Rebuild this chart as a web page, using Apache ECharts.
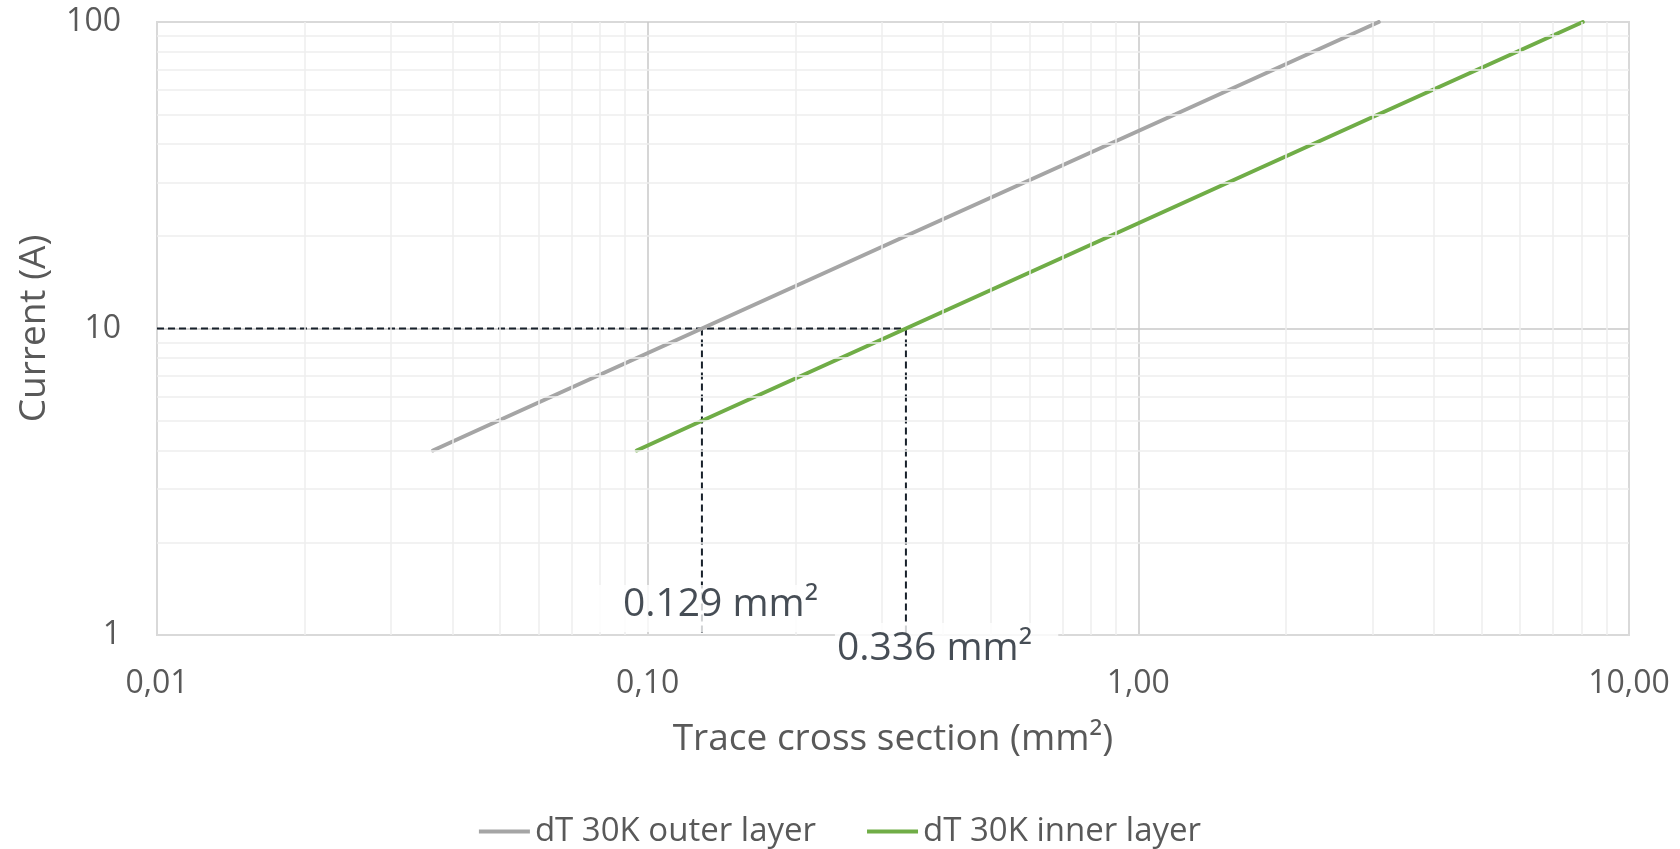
<!DOCTYPE html>
<html>
<head>
<meta charset="utf-8">
<script src="https://cdn.jsdelivr.net/npm/echarts@6/dist/echarts.min.js"></script>
<style>
  html, body { margin: 0; padding: 0; background: #fff; }
  #chart { width: 1680px; height: 849px; }
</style>
</head>
<body>
<div id="chart"></div>
<script>
// current (A) and the matching cross sections (mm²)
const currentA = [4, 5, 10, 20, 50, 100]
const outerArea = [0.0365, 0.0496, 0.129, 0.335, 1.19, 3.09]
const innerArea = [0.095, 0.129, 0.336, 0.874, 3.09, 8.05]

// 10 A read-out
const guideCurrent = 10
const guideAreas = [0.129, 0.336]
const guideLabels = ["0.129 mm²", "0.336 mm²"]

// axis ticks
const xTickValues = [0.01, 0.1, 1, 10]
const xTickLabels = ["0,01", "0,10", "1,00", "10,00"]
const yTickValues = [1, 10, 100]
const yTickLabels = ["1", "10", "100"]
const xMinor = [0.02, 0.03, 0.04, 0.05, 0.06, 0.07, 0.08, 0.09, 0.2, 0.3, 0.4, 0.5, 0.6, 0.7, 0.8, 0.9, 2, 3, 4, 5, 6, 7, 8, 9]
const yMinor = [2, 3, 4, 5, 6, 7, 8, 9, 20, 30, 40, 50, 60, 70, 80, 90]

const font = "Open Sans"
const grey = "#595959"
const ink = "#18212b"

const pickLabel = (values, labels, v) => {
  const i = values.findIndex((t) => Math.abs(t - v) < t * 1e-6)
  return i < 0 ? "" : labels[i]
}

const myChart = echarts.init(document.getElementById("chart"))

const option = {
  animation: false,
  textStyle: { fontFamily: font },
  grid: {
    left: 157,
    right: 51,
    top: 22,
    bottom: 214,
    show: true,
    borderColor: "#d9d9d9",
    borderWidth: 2
  },
  legend: {
    top: 810,
    left: "center",
    icon: "rect",
    itemWidth: 51,
    itemHeight: 4,
    itemGap: 51,
    data: ["dT 30K outer layer", "dT 30K inner layer"],
    textStyle: { fontSize: 33, color: grey, fontFamily: font }
  },
  xAxis: {
    type: "log",
    logBase: 10,
    min: 0.01,
    max: 10,
    z: 3,
    name: "Trace cross section (mm²)",
    nameLocation: "middle",
    nameGap: 86,
    nameTextStyle: { fontSize: 37, color: grey, fontFamily: font },
    axisLine: { lineStyle: { color: "#d9d9d9", width: 2 } },
    axisTick: { show: false },
    axisLabel: {
      margin: 33,
      fontSize: 32,
      color: grey,
      fontFamily: font,
      formatter: (v) => pickLabel(xTickValues, xTickLabels, v)
    },
    splitLine: {
      show: true,
      showMinLine: false,
      showMaxLine: false,
      lineStyle: { color: "#c8c8c8", width: 1.5 }
    }
  },
  yAxis: {
    type: "log",
    logBase: 10,
    min: 1,
    max: 100,
    z: 3,
    name: "Current (A)",
    nameLocation: "middle",
    nameGap: 104,
    nameTextStyle: { fontSize: 37, color: grey, fontFamily: font },
    axisLine: { show: true, lineStyle: { color: "#d9d9d9", width: 2 } },
    axisTick: { show: false },
    axisLabel: {
      margin: 36,
      fontSize: 32,
      color: grey,
      fontFamily: font,
      formatter: (v) => pickLabel(yTickValues, yTickLabels, v)
    },
    splitLine: {
      show: true,
      showMinLine: false,
      showMaxLine: false,
      lineStyle: { color: "#c8c8c8", width: 1.5 }
    }
  },
  series: [
    {
      // minor grid
      name: "minor",
      type: "line",
      data: [],
      z: 1,
      silent: true,
      markLine: {
        silent: true,
        symbol: ["none", "none"],
        label: { show: false },
        lineStyle: { color: "#eeeeee", width: 1.5, type: "solid" },
        data: xMinor.map((v) => ({ xAxis: v })).concat(yMinor.map((v) => ({ yAxis: v })))
      }
    },
    {
      name: "dT 30K outer layer",
      type: "line",
      z: 4,
      showSymbol: false,
      symbol: "none",
      color: "#a5a5a5",
      lineStyle: { width: 4, color: "#a5a5a5", cap: "round" },
      data: outerArea.map((a, i) => [a, currentA[i]])
    },
    {
      name: "dT 30K inner layer",
      type: "line",
      z: 4,
      showSymbol: false,
      symbol: "none",
      color: "#70ad47",
      lineStyle: { width: 4, color: "#70ad47", cap: "round" },
      data: innerArea.map((a, i) => [a, currentA[i]])
    },
    {
      name: "guide",
      type: "line",
      z: 3,
      silent: true,
      symbol: "none",
      lineStyle: { color: ink, width: 2, type: [7, 4] },
      data: [[xTickValues[0], guideCurrent], [guideAreas[1], guideCurrent]]
    },
    ...guideAreas.map((a) => ({
      name: "guide",
      type: "line",
      z: 3,
      silent: true,
      symbol: "none",
      lineStyle: { color: ink, width: 2, type: [7, 4] },
      data: [[a, guideCurrent], [a, yTickValues[0]]]
    })),
    {
      name: "labels",
      type: "scatter",
      z: 6,
      silent: true,
      symbolSize: 0,
      data: guideAreas.map((a, i) => ({
        value: [a, yTickValues[0]],
        label: i === 0
          ? { position: [-104, -50], padding: [0, 25, 8, 25] }
          : { position: [-71, -12], padding: [6, 26, 12, 2] }
      })),
      label: {
        show: true,
        align: "left",
        verticalAlign: "top",
        fontSize: 39,
        fontFamily: font,
        color: ink,
        backgroundColor: "#ffffff",
        formatter: (p) => guideLabels[p.dataIndex]
      }
    }
  ]
}

myChart.setOption(option)
window.addEventListener("resize", () => {
  myChart.resize()
})
</script>
</body>
</html>
